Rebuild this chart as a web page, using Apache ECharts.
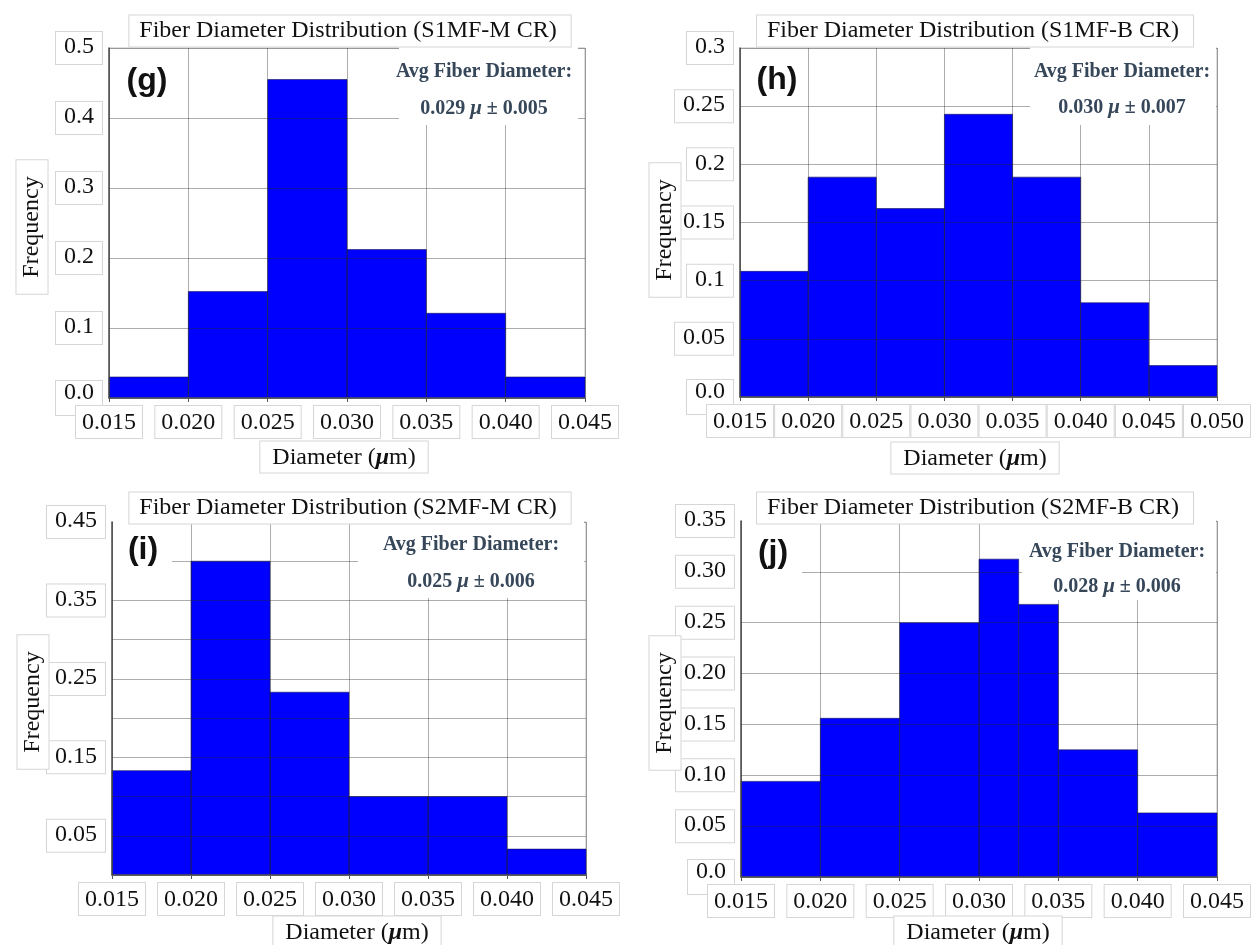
<!DOCTYPE html>
<html>
<head>
<meta charset="utf-8">
<script src="https://cdn.jsdelivr.net/npm/echarts@6/dist/echarts.min.js"></script>
<style>
html,body{margin:0;padding:0;background:#fff;}
#main{width:1254px;height:945px;}
</style>
</head>
<body>
<div id="main"></div>
<script>
// ---------------- DATA ----------------
const titles = [
  'Fiber Diameter Distribution (S1MF-M CR)',
  'Fiber Diameter Distribution (S1MF-B CR)',
  'Fiber Diameter Distribution (S2MF-M CR)',
  'Fiber Diameter Distribution (S2MF-B CR)'
];
const panelLetters = ['(g)', '(h)', '(i)', '(j)'];
const avgValues = ['0.029', '0.030', '0.025', '0.028'];
const sdValues = ['0.005', '0.007', '0.006', '0.006'];

// bin edges and frequencies
const gEdges = [0.015, 0.020, 0.025, 0.030, 0.035, 0.040, 0.045];
const gFreq  = [0.030, 0.152, 0.455, 0.212, 0.121, 0.030];

const hEdges = [0.015, 0.020, 0.025, 0.030, 0.035, 0.040, 0.045, 0.050];
const hFreq  = [0.108, 0.189, 0.162, 0.243, 0.189, 0.081, 0.027];

const iEdges = [0.015, 0.020, 0.025, 0.030, 0.035, 0.040, 0.045];
const iFreq  = [0.133, 0.400, 0.233, 0.100, 0.100, 0.033];

const jEdges = [0.015, 0.020, 0.025, 0.030, 0.0325, 0.035, 0.040, 0.045];
const jFreq  = [0.094, 0.156, 0.250, 0.3125, 0.268, 0.125, 0.063];

// tick labels
const xTicks7 = ['0.015', '0.020', '0.025', '0.030', '0.035', '0.040', '0.045'];
const xTicks8 = ['0.015', '0.020', '0.025', '0.030', '0.035', '0.040', '0.045', '0.050'];
const gYTicks = ['0.0', '0.1', '0.2', '0.3', '0.4', '0.5'];
const hYTicks = ['0.0', '0.05', '0.1', '0.15', '0.2', '0.25', '0.3'];
const iYTicks = ['', '0.05', '', '0.15', '', '0.25', '', '0.35', '', '0.45'];
const jYTicks = ['0.0', '0.05', '0.10', '0.15', '0.20', '0.25', '0.30', '0.35'];

const xAxisTitle = 'Diameter';
const yAxisTitle = 'Frequency';

// ---------------- LAYOUT ----------------
const SERIF = 'Liberation Serif, Times New Roman, serif';
const panels = [
  {edges: gEdges, freq: gFreq, xTicks: xTicks7, yTicks: gYTicks, xMax: 0.045, yMax: 0.5, yInt: 0.1,
   grid: {left: 109, top: 48, width: 476, height: 350},
   titlePos: [350, 31], letterPos: [147, 81], annoPos: [484, 72, 109],
   box: [399, 46, 179, 79], letterBox: null,
   yNamePos: [32, 227], xNamePos: [344, 457]},
  {edges: hEdges, freq: hFreq, xTicks: xTicks8, yTicks: hYTicks, xMax: 0.050, yMax: 0.3, yInt: 0.05,
   grid: {left: 740, top: 48, width: 481, height: 349},
   titlePos: [975, 31], letterPos: [777, 80], annoPos: [1122, 72, 108],
   box: [1030, 46, 186, 79], letterBox: null,
   yNamePos: [665, 230], xNamePos: [975, 458]},
  {edges: iEdges, freq: iFreq, xTicks: xTicks7, yTicks: iYTicks, xMax: 0.045, yMax: 0.45, yInt: 0.05,
   grid: {left: 112, top: 522, width: 474, height: 353},
   titlePos: [350, 508], letterPos: [143, 550], annoPos: [471, 545, 582],
   box: [358, 520, 226, 78], letterBox: [113, 520, 59, 55],
   yNamePos: [33, 702], xNamePos: [357, 932]},
  {edges: jEdges, freq: jFreq, xTicks: xTicks7, yTicks: jYTicks, xMax: 0.045, yMax: 0.35, yInt: 0.05,
   grid: {left: 741, top: 521, width: 479, height: 356},
   titlePos: [975, 508], letterPos: [773, 553], annoPos: [1117, 552, 587],
   box: [1022, 519, 194, 81], letterBox: [742, 519, 60, 56],
   yNamePos: [665, 703], xNamePos: [978, 932]}
];

const grids = [], xAxes = [], yAxes = [], series = [], graphics = [];
const labelBox = {fontFamily: SERIF, fontSize: 24, color: '#111',
                  borderColor: '#d6d6d6', borderWidth: 1, backgroundColor: '#fff'};

panels.forEach((p, k) => {
  grids.push(Object.assign({show: true, borderColor: '#bdbdbd', borderWidth: 1, backgroundColor: '#fff'}, p.grid));
  xAxes.push({
    type: 'value', gridIndex: k, min: 0.015, max: p.xMax, interval: 0.005, z: 4,
    axisLine: {show: true, onZero: false, lineStyle: {color: '#555', width: 1.5}},
    axisTick: {show: true, length: 4, lineStyle: {color: '#555'}},
    splitLine: {show: true, lineStyle: {color: 'rgba(40,40,40,0.38)', width: 1}},
    axisLabel: {
      margin: 8,
      formatter: (v) => '{b|' + p.xTicks[Math.round((v - 0.015) / 0.005)] + '}',
      rich: {b: Object.assign({padding: [5, 6, 3, 6]}, labelBox)}
    }
  });
  yAxes.push({
    type: 'value', gridIndex: k, min: 0, max: p.yMax, interval: p.yInt, z: 3,
    axisLine: {show: true, onZero: false, lineStyle: {color: '#555', width: 1.5}},
    axisTick: {show: false},
    splitLine: {show: true, lineStyle: {color: 'rgba(40,40,40,0.38)', width: 1}},
    axisLabel: {
      margin: 7,
      formatter: (v) => {
        const idx = Math.round(v / p.yInt);
        const t = p.yTicks[idx];
        if (!t) return '';
        return (idx === 0 ? '{z|' : '{b|') + t + '}';
      },
      rich: {b: Object.assign({padding: [3, 8, 5, 8]}, labelBox),
             z: Object.assign({padding: [0, 8, 10, 8]}, labelBox)}
    }
  });
  const data = p.freq.map((f, i) => [p.edges[i], p.edges[i + 1], f]);
  series.push({
    type: 'custom', xAxisIndex: k, yAxisIndex: k, z: 2,
    encode: {x: [0, 1], y: 2},
    data: data,
    renderItem: (params, api) => {
      const a = api.coord([api.value(0), api.value(2)]);
      const b = api.coord([api.value(1), 0]);
      return {
        type: 'rect',
        shape: {x: a[0], y: a[1], width: b[0] - a[0], height: b[1] - a[1]},
        style: {fill: '#0000ff', stroke: 'rgba(20,20,90,0.6)', lineWidth: 1}
      };
    }
  });

  // white annotation boxes (cover grid lines like the original)
  graphics.push({type: 'rect', z: 10, shape: {x: p.box[0], y: p.box[1], width: p.box[2], height: p.box[3]},
                 style: {fill: '#fff'}});
  if (p.letterBox) {
    graphics.push({type: 'rect', z: 10, shape: {x: p.letterBox[0], y: p.letterBox[1], width: p.letterBox[2], height: p.letterBox[3]},
                   style: {fill: '#fff'}});
  }
  // title
  graphics.push({type: 'text', z: 12, x: p.titlePos[0], y: p.titlePos[1],
    style: {text: titles[k], fontFamily: SERIF, fontSize: 24, fill: '#111',
            align: 'center', verticalAlign: 'middle', textAlign: 'center', textVerticalAlign: 'middle',
            backgroundColor: '#fff', borderColor: '#d6d6d6', borderWidth: 1, padding: [6, 14, 1, 10]}});
  // panel letter
  graphics.push({type: 'text', z: 12, x: p.letterPos[0], y: p.letterPos[1],
    style: {text: panelLetters[k], fontFamily: 'Liberation Sans, Arial, sans-serif', fontWeight: 'bold', fontSize: 32, fill: '#111',
            align: 'center', verticalAlign: 'middle', textAlign: 'center', textVerticalAlign: 'middle'}});
  // annotation
  graphics.push({type: 'text', z: 12, x: p.annoPos[0], y: p.annoPos[1],
    style: {text: 'Avg Fiber Diameter:', fontFamily: SERIF, fontWeight: 'bold', fontSize: 20, fill: '#37475a',
            align: 'center', verticalAlign: 'middle', textAlign: 'center', textVerticalAlign: 'middle'}});
  graphics.push({type: 'text', z: 12, x: p.annoPos[0], y: p.annoPos[2],
    style: {text: '{b|' + avgValues[k] + ' }{m|μ}{b| ± ' + sdValues[k] + '}',
            align: 'center', verticalAlign: 'middle', textAlign: 'center', textVerticalAlign: 'middle',
            rich: {b: {fontFamily: SERIF, fontWeight: 'bold', fontSize: 20, fill: '#37475a', color: '#37475a'},
                   m: {fontFamily: SERIF, fontWeight: 'bold', fontStyle: 'italic', fontSize: 21, fill: '#37475a', color: '#37475a'}}}});
  // y axis name
  graphics.push({type: 'text', z: 12, x: p.yNamePos[0], y: p.yNamePos[1], rotation: Math.PI / 2,
    style: {text: yAxisTitle, fontFamily: SERIF, fontSize: 24, fill: '#111',
            align: 'center', verticalAlign: 'middle', textAlign: 'center', textVerticalAlign: 'middle',
            backgroundColor: '#fff', borderColor: '#d6d6d6', borderWidth: 1, padding: [4, 16, 3, 16]}});
  // x axis name
  graphics.push({type: 'text', z: 12, x: p.xNamePos[0], y: p.xNamePos[1],
    style: {text: '{n|' + xAxisTitle + ' (}{m|μ}{n|m)}',
            align: 'center', verticalAlign: 'middle', textAlign: 'center', textVerticalAlign: 'middle',
            backgroundColor: '#fff', borderColor: '#d6d6d6', borderWidth: 1, padding: [4, 12, 3, 12],
            rich: {n: {fontFamily: SERIF, fontSize: 24, fill: '#111', color: '#111'},
                   m: {fontFamily: SERIF, fontStyle: 'italic', fontWeight: 'bold', fontSize: 24, fill: '#111', color: '#111'}}}});
});

const chart = echarts.init(document.getElementById('main'), null, {renderer: 'canvas'});
chart.setOption({
  backgroundColor: '#fff',
  animation: false,
  grid: grids,
  xAxis: xAxes,
  yAxis: yAxes,
  series: series,
  graphic: {elements: graphics}
});
</script>
</body>
</html>
